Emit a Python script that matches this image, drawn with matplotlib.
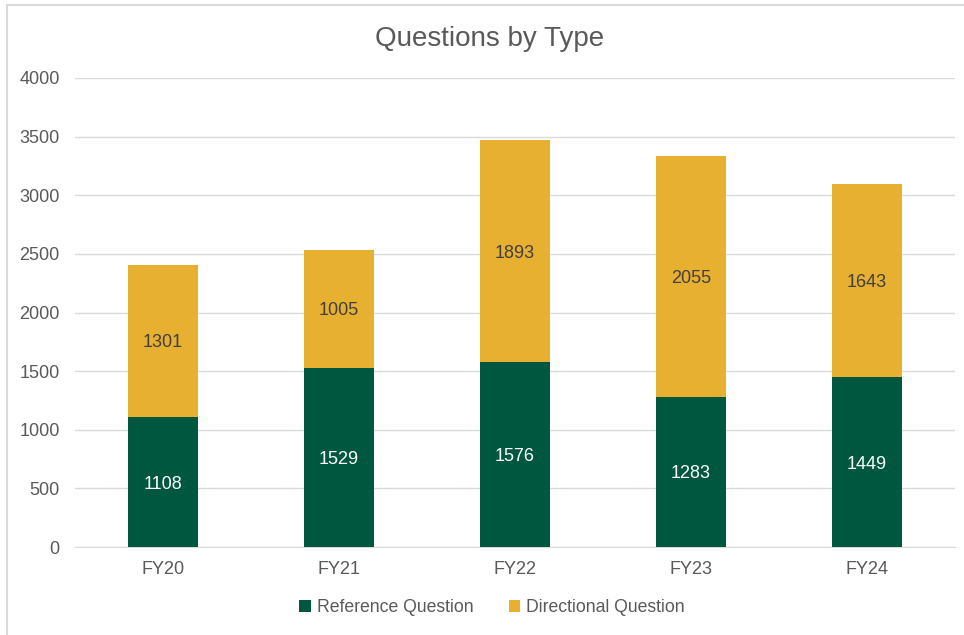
import matplotlib
matplotlib.use("Agg")
import matplotlib.pyplot as plt
from matplotlib.lines import Line2D
import numpy as np

plt.rcParams['font.family'] = ['Liberation Sans', 'DejaVu Sans']

categories = ["FY20", "FY21", "FY22", "FY23", "FY24"]
reference = [1108, 1529, 1576, 1283, 1449]
directional = [1301, 1005, 1893, 2055, 1643]
yticks = [0, 500, 1000, 1500, 2000, 2500, 3000, 3500, 4000]

green = "#00573F"
gold = "#E8B030"
txt = "#595959"

W, H = 964, 635
fig = plt.figure(figsize=(9.64, 6.35), dpi=100)
ax = fig.add_axes([75/W, 88/H, 880/W, 469/H])

x = np.arange(len(categories))
ax.bar(x, reference, width=0.4, color=green, label="Reference Question", zorder=3)
ax.bar(x, directional, width=0.4, bottom=reference, color=gold, label="Directional Question", zorder=3)

for i in range(len(x)):
    ax.text(x[i], reference[i] / 2, str(reference[i]), ha="center", va="center_baseline",
            color="white", fontsize=13, zorder=4)
    ax.text(x[i], reference[i] + directional[i] / 2, str(directional[i]), ha="center",
            va="center_baseline", color="#404040", fontsize=13, zorder=4)

ax.set_xlim(-0.5, len(x) - 0.5)
ax.set_ylim(0, 4000)
ax.set_yticks(yticks)
ax.set_xticks(x)
ax.set_xticklabels(categories)
ax.tick_params(axis="both", length=0, labelsize=13, colors=txt)
ax.tick_params(axis="y", pad=11)
ax.tick_params(axis="x", pad=10)
ax.grid(axis="y", color="#D9D9D9", linewidth=1, zorder=0)
for s in ["top", "right", "left"]:
    ax.spines[s].set_visible(False)
ax.spines["bottom"].set_color("#D9D9D9")

fig.text(490/W, 1 - 39/H, "Questions by Type", ha="center", va="center",
         fontsize=20, color=txt)

leg = fig.legend(loc="center", bbox_to_anchor=(492/W, 1 - 608/H), ncol=2,
                 frameon=False, fontsize=12.7, handlelength=0.65, handleheight=0.65,
                 columnspacing=2.0, handletextpad=0.35)
for t in leg.get_texts():
    t.set_color(txt)

# outer chart frame (left and top edges only visible)
fig.add_artist(Line2D([6.5/W, 6.5/W], [0, 1 - 4.5/H], transform=fig.transFigure,
                      color="#D9D9D9", linewidth=1.5))
fig.add_artist(Line2D([6.5/W, 1], [1 - 4.5/H, 1 - 4.5/H], transform=fig.transFigure,
                      color="#D9D9D9", linewidth=1.5))

fig.savefig("out.png", dpi=100)
